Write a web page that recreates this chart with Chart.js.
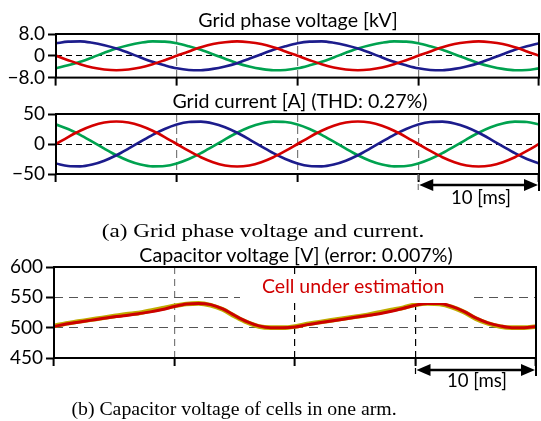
<!DOCTYPE html>
<html>
<head>
<meta charset="utf-8">
<script src="https://cdn.jsdelivr.net/npm/chart.js@4.4.1/dist/chart.umd.min.js"></script>
<style>
  body { margin: 0; background: #fff; width: 541px; height: 421px; position: relative; overflow: hidden; font-family: Lato, sans-serif; }
  canvas { position: absolute; left: 0; }
  .t { position: absolute; white-space: nowrap; line-height: 1; color: #000; }
  .mid { transform: translateX(-50%); }
  .ttl { font-size: 19.6px; }
  .cap { font-family: "Liberation Serif", serif; font-size: 19.8px; }
</style>
</head>
<body>
<canvas id="voltChart" width="541" height="92" style="top:0"></canvas>
<canvas id="currChart" width="541" height="120" style="top:92px"></canvas>
<canvas id="capChart" width="541" height="156" style="top:244px"></canvas>

<div class="t ttl mid" style="left:298px;top:10px">Grid phase voltage [kV]</div>
<div class="t ttl mid" style="left:300px;top:91px">Grid current [A] (THD: 0.27%)</div>
<div class="t ttl mid" style="left:296px;top:245px">Capacitor voltage [V] (error: 0.007%)</div>
<div class="t mid" style="left:481px;top:188px;font-size:18.6px">10 [ms]</div>
<div class="t mid" style="left:477px;top:371px;font-size:18.6px">10 [ms]</div>
<div class="t" style="left:240px;top:276px;font-size:19.5px;color:#d00000;background:#fff;padding:0 24px 7px 22px">Cell under estimation</div>
<div class="t cap" style="left:263px;top:221px;transform:translateX(-50%) scaleX(1.17)">(a) Grid phase voltage and current.</div>
<div class="t cap mid" style="left:234px;top:399px">(b) Capacitor voltage of cells in one arm.</div>

<script>
// time axis [ms], one sample per ms
const timeMs = [0,1,2,3,4,5,6,7,8,9,10,11,12,13,14,15,16,17,18,19,20,
                21,22,23,24,25,26,27,28,29,30,31,32,33,34,35,36,37,38,39,40];

// grid phase voltage [kV]
const voltRed   = [0,-1.6,-3.1,-4.3,-5.0,-5.3,-5.0,-4.3,-3.1,-1.6,0,1.6,3.1,4.3,5.0,5.3,5.0,4.3,3.1,1.6,0,
                   -1.6,-3.1,-4.3,-5.0,-5.3,-5.0,-4.3,-3.1,-1.6,0,1.6,3.1,4.3,5.0,5.3,5.0,4.3,3.1,1.6,0];
const voltBlue  = [4.6,5.2,5.3,4.8,3.9,2.7,1.1,-0.6,-2.2,-3.5,-4.6,-5.2,-5.3,-4.8,-3.9,-2.7,-1.1,0.6,2.2,3.5,4.6,
                   5.2,5.3,4.8,3.9,2.7,1.1,-0.6,-2.2,-3.5,-4.6,-5.2,-5.3,-4.8,-3.9,-2.7,-1.1,0.6,2.2,3.5,4.6];
const voltGreen = [-4.6,-3.5,-2.2,-0.6,1.1,2.7,3.9,4.8,5.3,5.2,4.6,3.5,2.2,0.6,-1.1,-2.7,-3.9,-4.8,-5.3,-5.2,-4.6,
                   -3.5,-2.2,-0.6,1.1,2.7,3.9,4.8,5.3,5.2,4.6,3.5,2.2,0.6,-1.1,-2.7,-3.9,-4.8,-5.3,-5.2,-4.6];

// grid current [A]
const currRed   = [0,11.6,22.0,30.3,35.7,37.5,35.7,30.3,22.0,11.6,0,-11.6,-22.0,-30.3,-35.7,-37.5,-35.7,-30.3,-22.0,-11.6,0,
                   11.6,22.0,30.3,35.7,37.5,35.7,30.3,22.0,11.6,0,-11.6,-22.0,-30.3,-35.7,-37.5,-35.7,-30.3,-22.0,-11.6,0];
const currBlue  = [-32.5,-36.7,-37.3,-34.3,-27.9,-18.8,-7.8,3.9,15.3,25.1,32.5,36.7,37.3,34.3,27.9,18.8,7.8,-3.9,-15.3,-25.1,-32.5,
                   -36.7,-37.3,-34.3,-27.9,-18.8,-7.8,3.9,15.3,25.1,32.5,36.7,37.3,34.3,27.9,18.8,7.8,-3.9,-15.3,-25.1,-32.5];
const currGreen = [32.5,25.1,15.3,3.9,-7.8,-18.8,-27.9,-34.3,-37.3,-36.7,-32.5,-25.1,-15.3,-3.9,7.8,18.8,27.9,34.3,37.3,36.7,32.5,
                   25.1,15.3,3.9,-7.8,-18.8,-27.9,-34.3,-37.3,-36.7,-32.5,-25.1,-15.3,-3.9,7.8,18.8,27.9,34.3,37.3,36.7,32.5];

// capacitor voltage [V]
const capEst    = [502,506,509,512,515,518,520,523,526,530,535,539,540,538,531,520,510,503,500,500,501,
                   505,508,511,514,517,520,523,527,532,537,540,540,535,527,516,508,503,500,500,502];
const capOthers = [503,507,510,513,516,519,522,524,528,532,536,539,540,537,530,519,509,502,500,500,502,
                   506,509,512,515,518,521,525,529,533,538,540,539,534,526,515,507,502,500,500,502];

// tick labels
const voltTicks = [-8, 0, 8];
const voltTickLabels = ['\u22128.0', '0', '8.0'];
const currTicks = [-50, 0, 50];
const currTickLabels = ['\u221250', '0', '50'];
const capTicks = [450, 500, 550, 600];
const capTickLabels = ['450', '500', '550', '600'];
const timeTicks = [0, 10, 20, 30, 40];

const pts = vals => vals.map((v, i) => ({ x: timeMs[i], y: v }));

const framePlugin = {
  id: 'frame',
  afterDatasetsDraw(chart, args, opts) {
    const { ctx, chartArea: a } = chart;
    ctx.save();
    ctx.strokeStyle = '#000';
    ctx.lineWidth = 2;
    ctx.strokeRect(a.left, a.top, a.right - a.left, a.bottom - a.top);
    if (opts.arrowGap) {
      const xs = chart.scales.x;
      const x1 = xs.getPixelForValue(30), x2 = xs.getPixelForValue(40);
      const y = a.bottom + opts.arrowGap;
      // extension lines down to the arrow
      ctx.lineWidth = 1.2;
      ctx.strokeStyle = opts.extColor;
      ctx.setLineDash([6, 4]);
      ctx.beginPath(); ctx.moveTo(x1, a.bottom); ctx.lineTo(x1, y + 6); ctx.stroke();
      ctx.setLineDash([]);
      ctx.strokeStyle = '#000';
      ctx.lineWidth = 2;
      ctx.beginPath(); ctx.moveTo(x2, a.bottom); ctx.lineTo(x2, y + 6); ctx.stroke();
      // arrow shaft and heads
      ctx.lineWidth = 2.5;
      ctx.beginPath(); ctx.moveTo(x1 + 10, y); ctx.lineTo(x2 - 10, y); ctx.stroke();
      ctx.fillStyle = '#000';
      ctx.beginPath(); ctx.moveTo(x1 + 1, y); ctx.lineTo(x1 + 15, y - 6); ctx.lineTo(x1 + 15, y + 6); ctx.closePath(); ctx.fill();
      ctx.beginPath(); ctx.moveTo(x2 - 1, y); ctx.lineTo(x2 - 15, y - 6); ctx.lineTo(x2 - 15, y + 6); ctx.closePath(); ctx.fill();
    }
    ctx.restore();
  }
};

function makeChart(id, cfg) {
  const yTicks = cfg.yTicks, yLabels = cfg.yLabels;
  return new Chart(document.getElementById(id), {
    type: 'line',
    data: { datasets: cfg.datasets },
    plugins: [framePlugin],
    options: {
      responsive: false,
      animation: false,
      events: [],
      layout: { padding: { top: cfg.padTop, right: cfg.padRight, left: 0, bottom: 0 } },
      plugins: { legend: { display: false }, tooltip: { enabled: false }, frame: { arrowGap: cfg.arrowGap, extColor: cfg.extColor } },
      elements: { point: { radius: 0 }, line: { cubicInterpolationMode: 'monotone' } },
      scales: {
        x: {
          type: 'linear', min: 0, max: 40,
          afterBuildTicks: s => { s.ticks = timeTicks.map(v => ({ value: v })); },
          afterFit: s => { s.height = cfg.xHeight; },
          ticks: { display: false },
          border: { display: false, dash: cfg.xDash },
          grid: {
            color: c => cfg.xGridColor(c.tick.value),
            lineWidth: 1.2,
            tickLength: 8, tickWidth: 2, tickColor: '#000'
          }
        },
        y: {
          min: yTicks[0], max: yTicks[yTicks.length - 1],
          afterBuildTicks: s => { s.ticks = yTicks.map(v => ({ value: v })); },
          afterFit: s => { s.width = cfg.yWidth; },
          ticks: {
            padding: 3, color: '#000',
            font: { family: 'Lato', size: 19 },
            callback: (v) => yLabels[yTicks.indexOf(v)]
          },
          border: { display: false, dash: cfg.yDash },
          grid: {
            color: c => cfg.yGridColor(c.tick.value),
            lineWidth: 1,
            tickLength: 8, tickWidth: 2, tickColor: '#000'
          }
        }
      }
    }
  });
}

const RED = '#d40000', BLUE = '#1c1c8c', GREEN = '#00a24f';
const lineDs = (vals, color, w) => ({ data: pts(vals), borderColor: color, borderWidth: w, fill: false });

makeChart('voltChart', {
  padTop: 34, padRight: 2, xHeight: 12, yWidth: 56,
  yTicks: voltTicks, yLabels: voltTickLabels,
  xDash: [8, 4], yDash: [6, 4],
  xGridColor: v => (v > 0 && v < 40) ? '#7a7a7a' : 'transparent',
  yGridColor: v => v === 0 ? '#000' : 'transparent',
  datasets: [lineDs(voltRed, RED, 2.6), lineDs(voltBlue, BLUE, 2.6), lineDs(voltGreen, GREEN, 2.6)]
});

makeChart('currChart', {
  padTop: 22, padRight: 2, xHeight: 38, yWidth: 56, arrowGap: 11, extColor: '#7a7a7a',
  yTicks: currTicks, yLabels: currTickLabels,
  xDash: [8, 4], yDash: [6, 4],
  xGridColor: v => (v > 0 && v < 40) ? '#7a7a7a' : 'transparent',
  yGridColor: v => v === 0 ? '#000' : 'transparent',
  datasets: [lineDs(currRed, RED, 2.6), lineDs(currBlue, BLUE, 2.6), lineDs(currGreen, GREEN, 2.6)]
});

// dataset 0 is drawn on top, so the estimated cell comes first
makeChart('capChart', {
  padTop: 23, padRight: 5, xHeight: 42, yWidth: 54, arrowGap: 12, extColor: '#000',
  yTicks: capTicks, yLabels: capTickLabels,
  xDash: [7, 5], yDash: [9, 6],
  xGridColor: v => v === 10 ? '#7a7a7a' : ((v > 0 && v < 40) ? '#000' : 'transparent'),
  yGridColor: v => (v === 500 || v === 550) ? '#555' : 'transparent',
  datasets: [lineDs(capEst, '#cc0000', 3), lineDs(capOthers, '#c0ac00', 4.6)]
});
</script>
</body>
</html>
